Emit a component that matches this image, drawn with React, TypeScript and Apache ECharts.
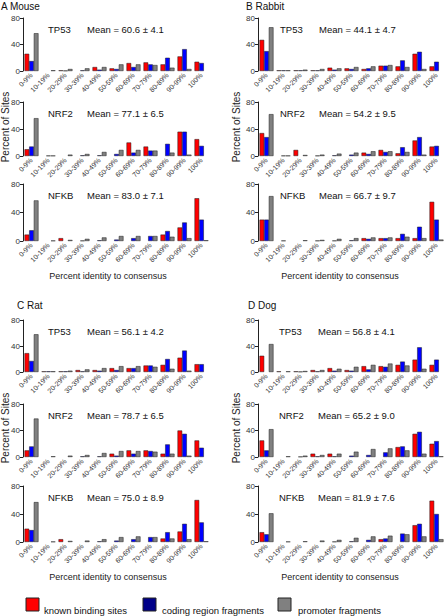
import React, { useEffect, useRef } from "react";
import * as echarts from "echarts";

const categories = ["0-9%", "10-19%", "20-29%", "30-39%", "40-49%", "50-59%", "60-69%", "70-79%", "80-89%", "90-99%", "100%"];
const seriesNames = ["known binding sites", "coding region fragments", "promoter fragments"];
const genes = ["TP53", "NRF2", "NFKB"];
const yTicks = [0, 40, 80];

// [known, coding, promoter]
const mouseTP53 = [
  [26, 0, 1, 0, 6, 4, 12, 13, 10, 22, 14],
  [15, 0, 0.5, 1, 2, 3, 6, 10, 20, 33, 12],
  [57, 1, 3, 4, 6, 10, 10, 9, 5, 3, 0],
];
const mouseNRF2 = [
  [10, 0, 0, 0, 0, 0, 20, 14, 0, 36, 25],
  [14, 0.5, 0, 1, 1, 3, 5, 8, 18, 36, 15],
  [56, 0.5, 2, 3, 6, 9, 9, 8, 5, 2, 0],
];
const mouseNFKB = [
  [9, 0, 4, 0, 0, 0, 0, 0, 9, 19, 60],
  [15, 0, 0, 0.5, 1, 2, 4, 7, 14, 26, 30],
  [57, 0.5, 1.5, 3, 5, 7, 7, 7, 6, 4, 1],
];
const rabbitTP53 = [
  [47, 1, 1, 1, 5, 4, 3, 8, 7, 26, 7],
  [30, 1, 1, 1, 2, 3, 4, 8, 16, 29, 14],
  [66, 1, 2, 3, 4, 6, 7, 9, 6, 3, 0],
];
const rabbitNRF2 = [
  [34, 0, 9, 0, 0, 0, 5, 9, 4, 23, 14],
  [28, 0.5, 0, 0.5, 1, 2, 3, 6, 13, 28, 15],
  [62, 0.5, 1.5, 2, 3.5, 5, 7, 7, 6, 2, 0],
];
const rabbitNFKB = [
  [30, 0, 0, 0, 0, 0, 4, 4, 4, 4, 55],
  [30, 0.5, 0, 0.5, 0.5, 1, 3, 4, 10, 20, 30],
  [63, 0, 1, 1.5, 3, 4, 5, 5, 6, 4, 2],
];
const ratTP53 = [
  [29, 1, 1, 3, 3, 6, 6, 10, 11, 22, 12],
  [17, 1, 1, 1, 2, 3, 6, 10, 20, 33, 12],
  [58, 1, 2, 4, 6, 9, 9, 8, 5, 2, 0],
];
const ratNRF2 = [
  [10, 0, 0, 0, 0, 5, 10, 10, 5, 40, 25],
  [16, 0, 0, 1, 1, 2, 5, 9, 19, 35, 14],
  [58, 1, 2, 3, 6, 9, 9, 8, 5, 2, 0],
];
const ratNFKB = [
  [19, 0, 4, 0, 0, 0, 0, 0, 5, 15, 60],
  [17, 0, 0, 0, 1, 2, 4, 7, 14, 26, 28],
  [57, 0.5, 1.5, 2, 4, 7, 8, 7, 5, 4, 1],
];
const dogTP53 = [
  [25, 1, 1, 3, 6, 3, 9, 9, 11, 19, 11],
  [0, 0, 0.5, 1, 2, 2, 4, 8, 16, 38, 19],
  [43, 1, 1.5, 3, 5, 8, 11, 13, 10, 5, 0],
];
const dogNRF2 = [
  [25, 0, 0, 5, 5, 0, 0, 0, 15, 35, 20],
  [10, 0, 0.5, 1, 1, 2, 3, 7, 16, 38, 24],
  [42, 1, 2, 3, 5, 8, 12, 13, 10, 5, 1],
];
const dogNFKB = [
  [14, 0, 0, 0, 0, 0, 0, 4, 0, 24, 59],
  [11, 0, 0, 0, 0.5, 1, 3, 5, 12, 26, 40],
  [41, 0.5, 1, 2, 3, 6, 8, 9, 11, 8, 4],
];

const mouseMeans = ["Mean = 60.6 ± 4.1", "Mean = 77.1 ± 6.5", "Mean = 83.0 ± 7.1"];
const rabbitMeans = ["Mean = 44.1 ± 4.7", "Mean = 54.2 ± 9.5", "Mean = 66.7 ± 9.7"];
const ratMeans = ["Mean = 56.1 ± 4.2", "Mean = 78.7 ± 6.5", "Mean = 75.0 ± 8.9"];
const dogMeans = ["Mean = 56.8 ± 4.1", "Mean = 65.2 ± 9.0", "Mean = 81.9 ± 7.6"];

const barColors = ["#ff0000", "#0000ff", "#808080"];
const legendColors = ["#ff0000", "#000088", "#808080"];
const FONT = "Liberation Sans, Arial, sans-serif";

const panels = [
  { title: "A Mouse", data: [mouseTP53, mouseNRF2, mouseNFKB], means: mouseMeans, left: 23, tops: [18, 102, 184], heights: [53, 54, 57], titleX: 1, titleY: 6, ytitleX: 5, ytitleY: 127, xtitleX: 108, xtitleY: 276, geneX: 48, meanX: 87 },
  { title: "B Rabbit", data: [rabbitTP53, rabbitNRF2, rabbitNFKB], means: rabbitMeans, left: 258, tops: [18, 102, 184], heights: [53, 54, 57], titleX: 246, titleY: 6, ytitleX: 236, ytitleY: 127, xtitleX: 340, xtitleY: 276, geneX: 280, meanX: 319 },
  { title: "C Rat", data: [ratTP53, ratNRF2, ratNFKB], means: ratMeans, left: 23, tops: [320, 404, 486], heights: [52, 53, 56], titleX: 17, titleY: 305, ytitleX: 5, ytitleY: 428, xtitleX: 108, xtitleY: 577, geneX: 48, meanX: 87 },
  { title: "D Dog", data: [dogTP53, dogNRF2, dogNFKB], means: dogMeans, left: 258, tops: [320, 404, 486], heights: [52, 53, 56], titleX: 248, titleY: 305, ytitleX: 236, ytitleY: 428, xtitleX: 340, xtitleY: 577, geneX: 279, meanX: 318 },
];

const legendPos = [
  { boxX: 26, textX: 44 },
  { boxX: 143, textX: 162 },
  { boxX: 278, textX: 298 },
];

export default function App() {
  const ref = useRef<HTMLDivElement>(null);
  useEffect(() => {
    if (!ref.current) return;
    const chart = echarts.init(ref.current, null, { renderer: "svg" });
    const grid: any[] = [];
    const xAxis: any[] = [];
    const yAxis: any[] = [];
    const series: any[] = [];
    const graphic: any[] = [];
    let idx = 0;
    panels.forEach((p) => {
      graphic.push({ type: "text", x: p.titleX, y: p.titleY, style: { text: p.title, font: `10px ${FONT}`, fill: "#111", textVerticalAlign: "middle" } });
      graphic.push({ type: "text", x: p.ytitleX, y: p.ytitleY, rotation: Math.PI / 2, style: { text: "Percent of Sites", font: `10px ${FONT}`, fill: "#222", textAlign: "center", textVerticalAlign: "middle" } });
      graphic.push({ type: "text", x: p.xtitleX, y: p.xtitleY, style: { text: "Percent identity to consensus", font: `9px ${FONT}`, fill: "#222", textAlign: "center", textVerticalAlign: "middle" } });
      p.data.forEach((sub, g) => {
        grid.push({ left: p.left, top: p.tops[g], width: 187, height: p.heights[g] });
        xAxis.push({
          type: "category", gridIndex: idx, data: categories,
          axisLine: { show: false }, axisTick: { show: false },
          axisLabel: { interval: 0, rotate: 45, fontSize: 7, color: "#333", margin: 3, fontFamily: FONT },
        });
        yAxis.push({
          type: "value", gridIndex: idx, min: yTicks[0], max: yTicks[2], interval: yTicks[1] - yTicks[0],
          axisLine: { show: true, lineStyle: { color: "#222", width: 1 } },
          axisTick: { show: true, length: 3, lineStyle: { color: "#222" } },
          splitLine: { show: false },
          axisLabel: { fontSize: 8, color: "#333", margin: 3, fontFamily: FONT },
        });
        sub.forEach((vals, s) => {
          series.push({
            type: "bar", name: seriesNames[s], xAxisIndex: idx, yAxisIndex: idx,
            data: vals.map((v) => (v === 0 ? null : v)),
            barGap: "0%", barCategoryGap: "18%",
            itemStyle: { color: barColors[s], borderColor: "#1a1a1a", borderWidth: 0.5 },
          });
        });
        const ty = p.tops[g] + 11.5;
        graphic.push({ type: "text", x: p.geneX, y: ty, style: { text: genes[g], font: `9.5px ${FONT}`, fill: "#111", textVerticalAlign: "middle" } });
        graphic.push({ type: "text", x: p.meanX, y: ty, style: { text: p.means[g], font: `9.5px ${FONT}`, fill: "#111", textVerticalAlign: "middle" } });
        idx++;
      });
    });
    seriesNames.forEach((n, i) => {
      graphic.push({ type: "rect", shape: { x: legendPos[i].boxX, y: 598, width: 13, height: 13 }, style: { fill: legendColors[i], stroke: "#222", lineWidth: 1 } });
      graphic.push({ type: "text", x: legendPos[i].textX, y: 610, style: { text: n, font: `9.5px ${FONT}`, fill: "#111", textVerticalAlign: "middle" } });
    });
    chart.setOption({
      animation: false,
      backgroundColor: "#ffffff",
      grid, xAxis, yAxis, series, graphic,
    });
    return () => chart.dispose();
  }, []);
  return <div ref={ref} style={{ position: "absolute", left: 0, top: 0, width: 446, height: 616 }} />;
}
